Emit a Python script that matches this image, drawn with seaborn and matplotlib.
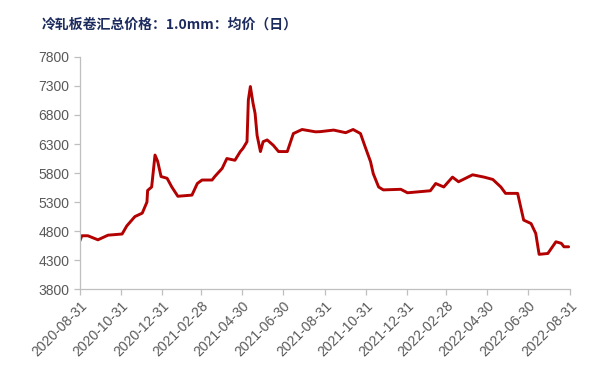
import matplotlib.pyplot as plt
import matplotlib.dates as mdates
import seaborn as sns
import pandas as pd

# price points
dates = [
    "2020-08-31", "2020-09-03", "2020-09-12", "2020-09-27", "2020-10-12", "2020-11-02",
    "2020-11-09", "2020-11-21", "2020-12-02", "2020-12-09", "2020-12-10", "2020-12-16",
    "2020-12-21", "2020-12-25", "2020-12-30", "2021-01-08", "2021-01-15", "2021-01-24",
    "2021-02-14", "2021-02-22", "2021-03-01", "2021-03-16", "2021-03-20", "2021-03-31",
    "2021-04-07", "2021-04-19", "2021-04-27", "2021-05-01", "2021-05-07", "2021-05-09",
    "2021-05-12", "2021-05-16", "2021-05-19", "2021-05-22", "2021-05-27", "2021-05-31",
    "2021-06-06", "2021-06-15", "2021-06-23", "2021-07-06", "2021-07-15", "2021-07-28",
    "2021-08-17", "2021-08-24", "2021-09-13", "2021-10-01", "2021-10-12", "2021-10-23",
    "2021-10-30", "2021-11-07", "2021-11-11", "2021-11-19", "2021-11-26", "2021-12-22",
    "2022-01-01", "2022-02-04", "2022-02-12", "2022-02-24", "2022-03-09", "2022-03-18",
    "2022-04-08", "2022-04-25", "2022-05-08", "2022-05-20", "2022-05-27", "2022-06-14",
    "2022-06-23", "2022-07-04", "2022-07-11", "2022-07-16", "2022-07-29", "2022-08-10",
    "2022-08-18", "2022-08-22", "2022-08-29",
]
prices = [
    4630, 4720, 4720, 4650, 4730, 4750,
    4890, 5050, 5110, 5300, 5500, 5560,
    6110, 6000, 5740, 5710, 5560, 5400,
    5420, 5620, 5680, 5680, 5740, 5880,
    6050, 6020, 6170, 6225, 6340, 7060,
    7290, 7000, 6830, 6450, 6170, 6340,
    6370, 6280, 6170, 6170, 6480, 6550,
    6510, 6513, 6540, 6495, 6550, 6480,
    6250, 5995, 5790, 5560, 5510, 5520,
    5460, 5495, 5620, 5560, 5730, 5650,
    5770, 5730, 5690, 5560, 5450, 5450,
    4990, 4930, 4760, 4400, 4415, 4616,
    4590, 4530, 4530,
]
tick_dates = [
    "2020-08-31", "2020-10-31", "2020-12-31", "2021-02-28", "2021-04-30", "2021-06-30",
    "2021-08-31", "2021-10-31", "2021-12-31", "2022-02-28", "2022-04-30", "2022-06-30",
    "2022-08-31",
]
y_ticks = [3800, 4300, 4800, 5300, 5800, 6300, 6800, 7300, 7800]

df = pd.DataFrame({"date": pd.to_datetime(dates), "price": prices})

sns.set_style("white")
plt.rcParams['font.family'] = ['Liberation Sans', 'DejaVu Sans']

fig = plt.figure(figsize=(6, 3.82), dpi=100)
ax = fig.add_axes([0.133, 0.243, 0.817, 0.608])
sns.lineplot(data=df, x="date", y="price", color="#b30000", linewidth=2.1, ax=ax)

ax.set_xlim(pd.Timestamp("2020-08-31"), pd.Timestamp("2022-08-31"))
ax.set_ylim(3800, 7800)
ax.set_yticks(y_ticks)
ax.set_xticks(pd.to_datetime(tick_dates))
ax.xaxis.set_major_formatter(mdates.DateFormatter("%Y-%m-%d"))
ax.set_xlabel("")
ax.set_ylabel("")

for s in ["top", "right"]:
    ax.spines[s].set_visible(False)
for s in ["left", "bottom"]:
    ax.spines[s].set_color("#bfbfbf")
    ax.spines[s].set_linewidth(0.9)

ax.tick_params(axis="both", colors="#bfbfbf", length=4, width=0.9, direction="out",
               labelcolor="#595959", labelsize=10)
ax.tick_params(axis="x", bottom=True, pad=3)
ax.tick_params(axis="y", left=True)
plt.setp(ax.get_xticklabels(), rotation=45, ha="right", rotation_mode="anchor")

fig.text(0.07, 0.935, "冷轧板卷汇总价格：1.0mm：均价（日）", fontsize=10,
         fontweight="bold", color="#1c2b5e",
         family=["Noto Sans CJK SC", "DejaVu Sans"], va="center")

fig.savefig("out.png", dpi=100)
